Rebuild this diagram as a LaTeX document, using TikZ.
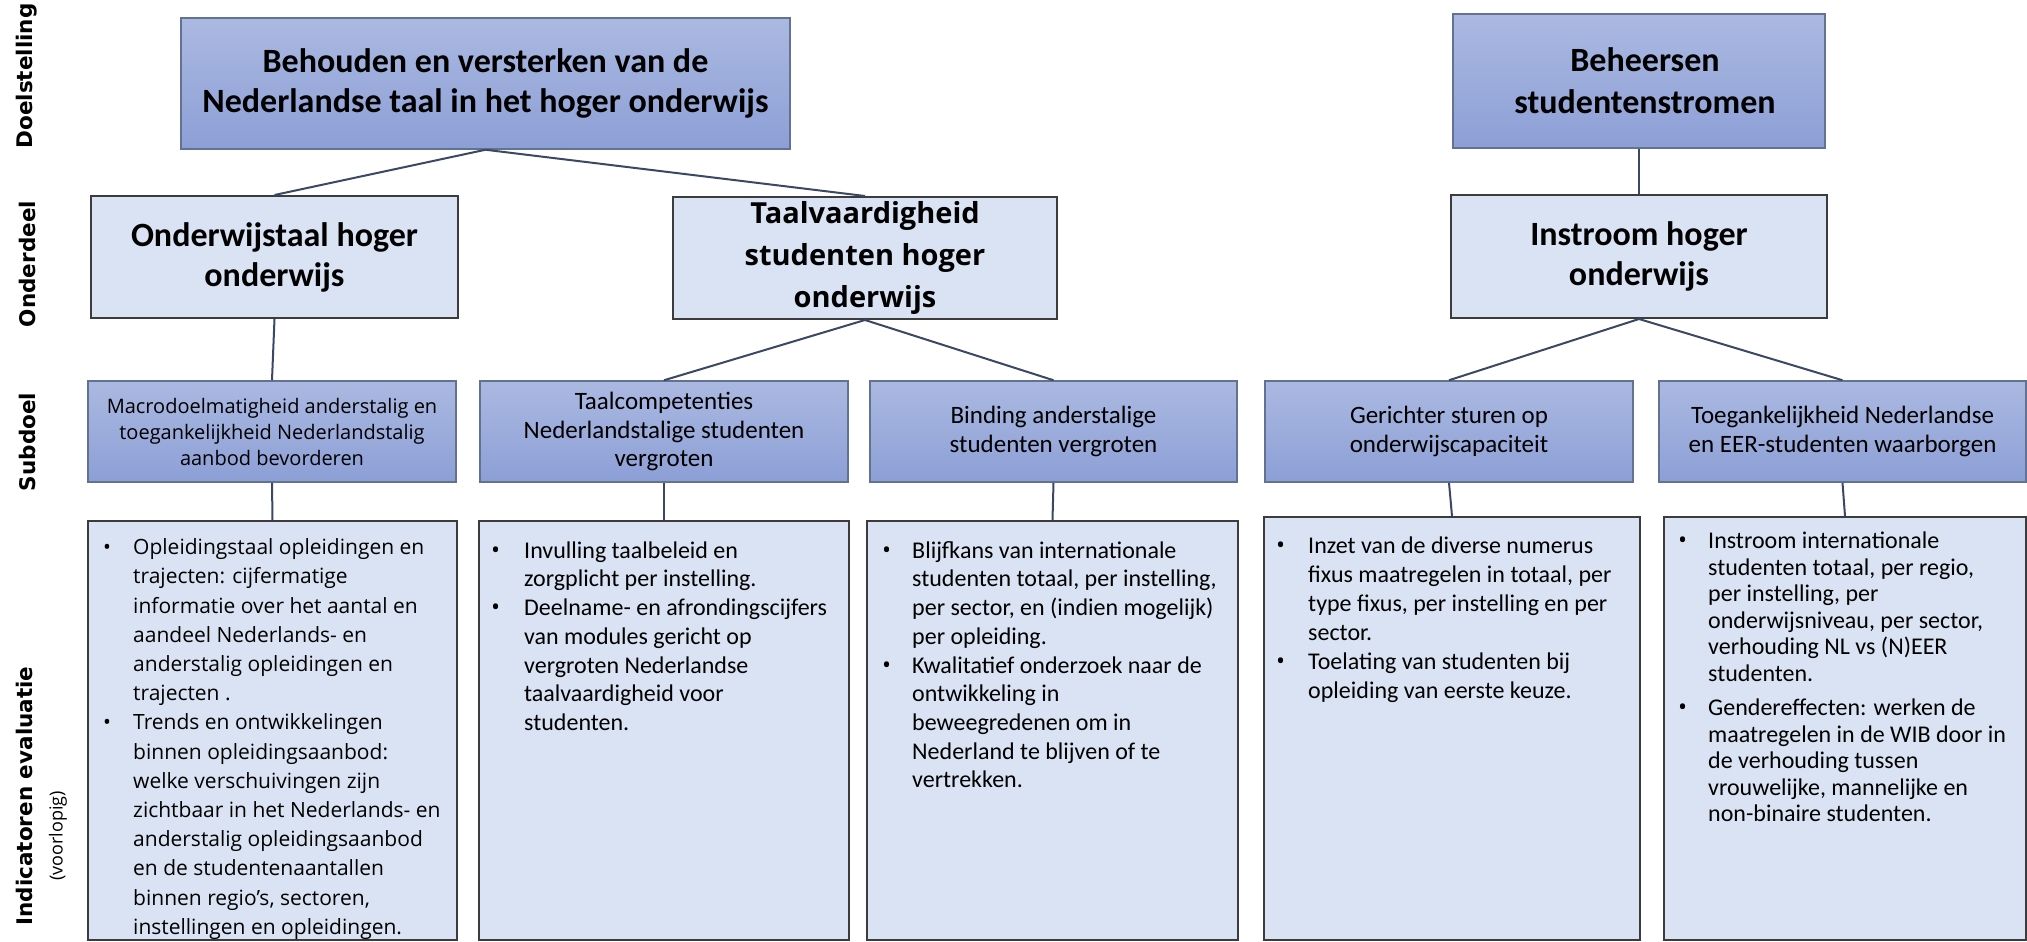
\documentclass[tikz,border=0pt]{standalone}
\usepackage{fontspec}
\setmainfont{Carlito}
\newfontfamily\opensans{Open Sans}
\newfontfamily\dejavu{DejaVu Sans}
\newcommand{\bul}{{\opensans\textbullet}}
\definecolor{boxtop}{RGB}{171,185,225}
\definecolor{boxbot}{RGB}{140,159,214}
\definecolor{boxlight}{RGB}{218,227,243}
\definecolor{boxline}{RGB}{60,60,60}
\definecolor{darkline}{RGB}{100,114,145}
\definecolor{linkcol}{RGB}{58,72,100}
\tikzset{dbox/.style={draw=darkline, line width=1.5pt, top color=boxtop, bottom color=boxbot, inner sep=0pt, align=center}}
\tikzset{lbox/.style={draw=boxline, line width=2pt, fill=boxlight, inner sep=0pt, align=center}}
\tikzset{itext/.style={anchor=north west, inner sep=0pt, align=left}}
\tikzset{rowlabel/.style={rotate=90, inner sep=0pt, font=\dejavu\bfseries\fontsize{21.5}{26}\selectfont}}
\tikzset{edge/.style={line width=2pt, color=linkcol}}

\begin{document}
\begin{tikzpicture}[x=1pt, y=-1pt]
        \useasboundingbox (0,0) rectangle (2027,942);

        % row labels
        \node[rowlabel] (Ldoel) at (27, 76) {Doelstelling};
        \node[rowlabel] (Londer) at (27, 264) {Onderdeel};
        \node[rowlabel] (Lsub) at (27, 442) {Subdoel};
        \node[rowlabel] (Lind) at (24, 796) {Indicatoren evaluatie};
        \node[rotate=90, inner sep=0pt, font=\opensans\fontsize{18}{22}\selectfont] (Lvoor) at (58, 836) {(voorlopig)};

        % doelstelling
        \node[dbox, minimum width=609pt, minimum height=131pt, font=\bfseries\fontsize{34}{40}\selectfont] (Da) at (485.5, 83.5)
        {Behouden en versterken van de\\Nederlandse taal in het hoger onderwijs};
        \node[dbox, minimum width=372pt, minimum height=134pt, font=\bfseries\fontsize{34}{42}\selectfont] (Db) at (1639, 81)
        {\hspace{12pt}Beheersen\\\hspace{12pt}studentenstromen};

        % onderdeel
        \node[lbox, minimum width=367pt, minimum height=122pt, font=\bfseries\fontsize{34}{40}\selectfont] (Oa) at (274.5, 257) {Onderwijstaal hoger\\onderwijs};
        \node[lbox, minimum width=384pt, minimum height=122pt, font=\opensans\bfseries\fontsize{29}{42}\selectfont] (Ob) at (865, 258) {Taalvaardigheid\\studenten hoger\\onderwijs};
        \node[lbox, minimum width=376pt, minimum height=123pt, font=\bfseries\fontsize{34}{40}\selectfont] (Oc) at (1639, 256.5) {Instroom hoger\\onderwijs};

        % subdoel
        \node[dbox, minimum width=368pt, minimum height=101pt, font=\opensans\fontsize{20}{26}\selectfont] (Sa) at (272, 431.5) {Macrodoelmatigheid anderstalig en\\toegankelijkheid Nederlandstalig\\aanbod bevorderen};
        \node[dbox, minimum width=368pt, minimum height=101pt, font=\fontsize{25}{28.5}\selectfont] (Sb) at (664, 431.5) {Taalcompetenties\\Nederlandstalige studenten\\vergroten};
        \node[dbox, minimum width=367pt, minimum height=101pt, font=\fontsize{25}{28.5}\selectfont] (Sc) at (1053.5, 431.5) {Binding anderstalige\\studenten vergroten};
        \node[dbox, minimum width=368pt, minimum height=101pt, font=\fontsize{25}{28.5}\selectfont] (Sd) at (1449, 431.5) {Gerichter sturen op\\onderwijscapaciteit};
        \node[dbox, minimum width=367pt, minimum height=101pt, font=\fontsize{25}{28.5}\selectfont] (Se) at (1842.5, 431.5) {Toegankelijkheid Nederlandse\\en EER-studenten waarborgen};

        % indicatoren
        \node[lbox, minimum width=369pt, minimum height=419pt] (Ia) at (272.5, 730.5) {};
        \node[lbox, minimum width=370pt, minimum height=419pt] (Ib) at (664, 730.5) {};
        \node[lbox, minimum width=371pt, minimum height=419pt] (Ic) at (1052.5, 730.5) {};
        \node[lbox, minimum width=376pt, minimum height=423pt] (Id) at (1452, 728.5) {};
        \node[lbox, minimum width=362pt, minimum height=423pt] (Ie) at (1845, 728.5) {};

        \node[itext, font=\opensans\fontsize{21}{29.2}\selectfont] (Ta) at (103, 534) {%
        \begin{tabular}{@{}p{30pt}@{}l@{}}
        \bul & Opleidingstaal opleidingen en\\
         & trajecten: cijfermatige\\
         & informatie over het aantal en\\
         & aandeel Nederlands- en\\
         & anderstalig opleidingen en\\
         & trajecten .\\
        \bul & Trends en ontwikkelingen\\
         & binnen opleidingsaanbod:\\
         & welke verschuivingen zijn\\
         & zichtbaar in het Nederlands- en\\
         & anderstalig opleidingsaanbod\\
         & en de studentenaantallen\\
         & binnen regio’s, sectoren,\\
         & instellingen en opleidingen.
        \end{tabular}};
        \node[itext, font=\fontsize{24}{28.7}\selectfont] (Tb) at (491, 538) {%
        \begin{tabular}{@{}p{33pt}@{}l@{}}
        \bul & Invulling taalbeleid en\\
         & zorgplicht per instelling.\\
        \bul & Deelname- en afrondingscijfers\\
         & van modules gericht op\\
         & vergroten Nederlandse\\
         & taalvaardigheid voor\\
         & studenten.
        \end{tabular}};
        \node[itext, font=\fontsize{24}{28.7}\selectfont] (Tc) at (882, 538) {%
        \begin{tabular}{@{}p{30pt}@{}l@{}}
        \bul & Blijfkans van internationale\\
         & studenten totaal, per instelling,\\
         & per sector, en (indien mogelijk)\\
         & per opleiding.\\
        \bul & Kwalitatief onderzoek naar de\\
         & ontwikkeling in\\
         & beweegredenen om in\\
         & Nederland te blijven of te\\
         & vertrekken.
        \end{tabular}};
        \node[itext, font=\fontsize{24}{29}\selectfont] (Td) at (1276, 533) {%
        \begin{tabular}{@{}p{32pt}@{}l@{}}
        \bul & Inzet van de diverse numerus\\
         & fixus maatregelen in totaal, per\\
         & type fixus, per instelling en per\\
         & sector.\\
        \bul & Toelating van studenten bij\\
         & opleiding van eerste keuze.
        \end{tabular}};
        \node[itext, font=\fontsize{24}{26.5}\selectfont] (Te) at (1678, 530) {%
        \begin{tabular}{@{}p{30pt}@{}l@{}}
        \bul & Instroom internationale\\
         & studenten totaal, per regio,\\
         & per instelling, per\\
         & onderwijsniveau, per sector,\\
         & verhouding NL vs (N)EER\\
         & studenten.\\[8pt]
        \bul & Gendereffecten: werken de\\
         & maatregelen in de WIB door in\\
         & de verhouding tussen\\
         & vrouwelijke, mannelijke en\\
         & non-binaire studenten.
        \end{tabular}};

        \draw [edge] (Da.south) -- (Oa.north);
        \draw [edge] (Da.south) -- (Ob.north);
        \draw [edge] (Db.south) -- (Oc.north);
        \draw [edge] (Oa.south) -- (Sa.north);
        \draw [edge] (Ob.south) -- (Sb.north);
        \draw [edge] (Ob.south) -- (Sc.north);
        \draw [edge] (Oc.south) -- (Sd.north);
        \draw [edge] (Oc.south) -- (Se.north);
        \draw [edge] (Sa.south) -- (Ia.north);
        \draw [edge] (Sb.south) -- (Ib.north);
        \draw [edge] (Sc.south) -- (Ic.north);
        \draw [edge] (Sd.south) -- (Id.north);
        \draw [edge] (Se.south) -- (Ie.north);
    \end{tikzpicture}
\end{document}
